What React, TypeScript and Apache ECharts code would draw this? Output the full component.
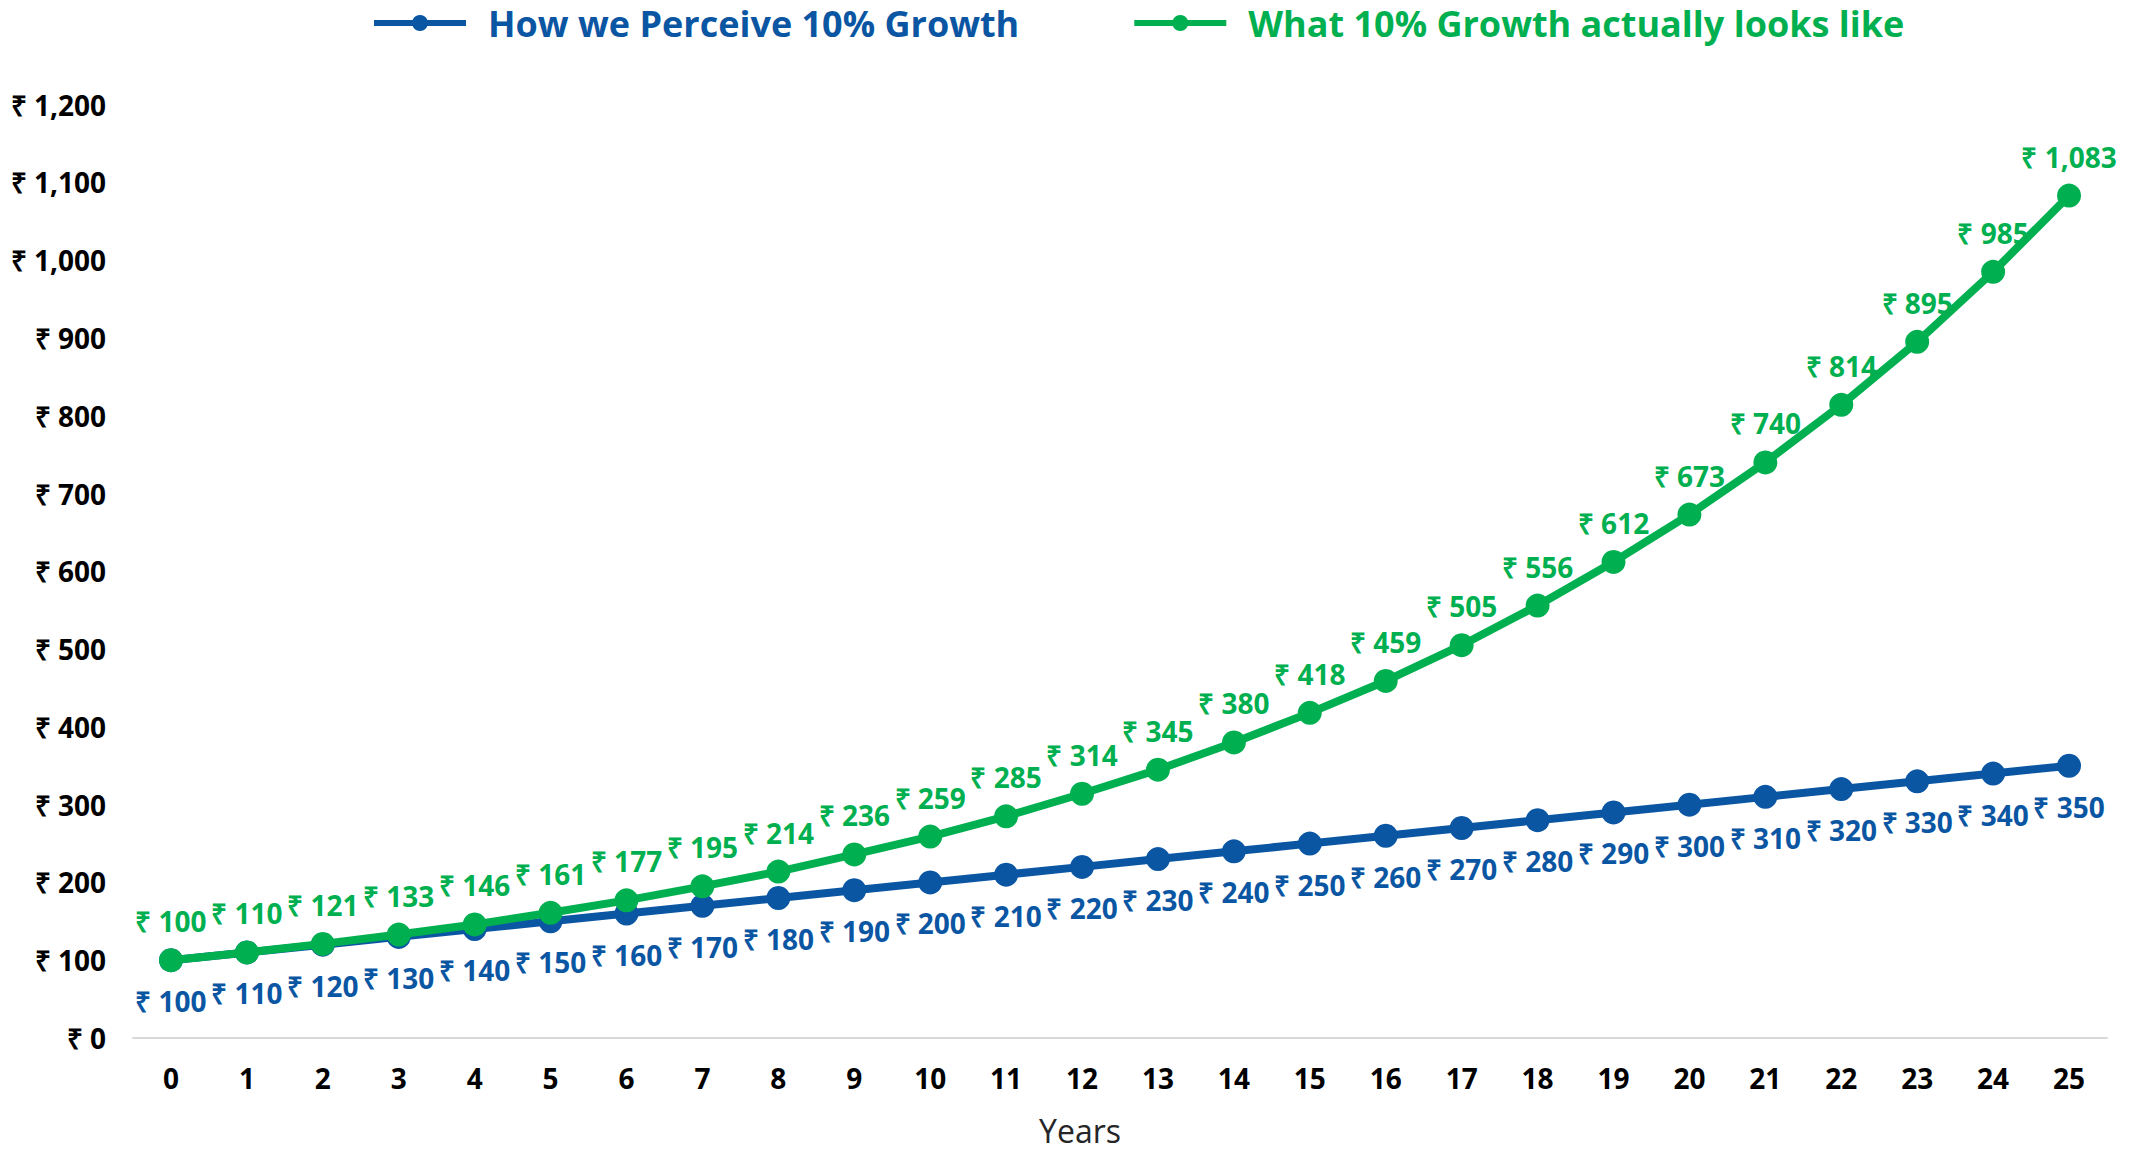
import React, { useEffect, useRef } from "react";
import * as echarts from "echarts";

const years = ["0","1","2","3","4","5","6","7","8","9","10","11","12","13","14","15","16","17","18","19","20","21","22","23","24","25"];
const perceived = [100,110,120,130,140,150,160,170,180,190,200,210,220,230,240,250,260,270,280,290,300,310,320,330,340,350];
const actual = [100,110,121,133,146,161,177,195,214,236,259,285,314,345,380,418,459,505,556,612,673,740,814,895,985,1083];
const seriesNames = ["How we Perceive 10% Growth", "What 10% Growth actually looks like"];

const BLUE = "#0B56A3";
const GREEN = "#00B050";
const FONT = "'Open Sans', sans-serif";

const fmt = (v: number) => "₹ " + v.toLocaleString("en-US");

export default function App() {
  const ref = useRef<HTMLDivElement>(null);
  useEffect(() => {
    document.body.style.margin = "0";
    const chart = echarts.init(ref.current!, null, { renderer: "svg" });
    chart.setOption({
      animation: false,
      backgroundColor: "#ffffff",
      textStyle: { fontFamily: FONT },
      legend: {
        top: 0,
        left: 366,
        itemWidth: 92,
        itemHeight: 20,
        itemGap: 112,
        lineStyle: { width: 6 },
        textStyle: { fontSize: 36, fontWeight: "bold", fontFamily: FONT, padding: [0, 0, 0, 17] },
        data: [
          { name: seriesNames[0], textStyle: { color: BLUE } },
          { name: seriesNames[1], textStyle: { color: GREEN } },
        ],
      },
      grid: { left: 133, right: 24, top: 104.6, bottom: 113, containLabel: false },
      xAxis: {
        type: "category",
        data: years,
        boundaryGap: true,
        axisLine: { show: true, lineStyle: { color: "#D9D9D9", width: 2 } },
        axisTick: { show: false },
        axisLabel: { fontSize: 28, fontWeight: "bold", color: "#000", margin: 26, fontFamily: FONT },
        name: "Years",
        nameLocation: "middle",
        nameGap: 76,
        nameTextStyle: { fontSize: 32, color: "#262626", fontFamily: FONT, padding: [0, 80, 0, 0] },
      },
      yAxis: {
        type: "value",
        min: 0,
        max: 1200,
        interval: 100,
        axisLine: { show: false },
        axisTick: { show: false },
        splitLine: { show: false },
        axisLabel: {
          fontSize: 28,
          fontWeight: "bold",
          color: "#000",
          margin: 27,
          fontFamily: FONT,
          formatter: (v: number) => fmt(v),
        },
      },
      series: [
        {
          name: seriesNames[0],
          type: "line",
          data: perceived,
          color: BLUE,
          symbol: "circle",
          symbolSize: 24,
          lineStyle: { width: 8, color: BLUE },
          itemStyle: { color: BLUE },
          label: {
            show: true,
            position: "bottom",
            distance: 15,
            color: BLUE,
            fontSize: 28,
            fontWeight: "bold",
            fontFamily: FONT,
            formatter: (p: any) => fmt(p.value),
          },
          z: 2,
        },
        {
          name: seriesNames[1],
          type: "line",
          data: actual,
          color: GREEN,
          symbol: "circle",
          symbolSize: 24,
          lineStyle: { width: 8, color: GREEN },
          itemStyle: { color: GREEN },
          label: {
            show: true,
            position: "top",
            distance: 13,
            color: GREEN,
            fontSize: 28,
            fontWeight: "bold",
            fontFamily: FONT,
            formatter: (p: any) => fmt(p.value),
          },
          z: 3,
        },
      ],
    });
    return () => chart.dispose();
  }, []);
  return <div ref={ref} style={{ position: "fixed", left: 0, top: 0, width: 2131, height: 1151 }} />;
}
